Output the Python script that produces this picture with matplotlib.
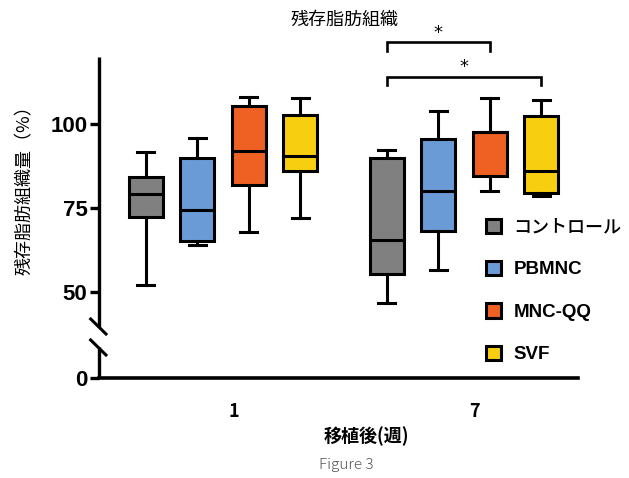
import numpy as np
import matplotlib
matplotlib.use("Agg")
import matplotlib.pyplot as plt
from matplotlib.patches import Patch

# ---------------- data ----------------
weeks = ["1", "7"]
groups = ["コントロール", "PBMNC", "MNC-QQ", "SVF"]
colors = ["#808080", "#6a9bd6", "#ef6123", "#f7cf10"]

# per group: values for week 1, week 7
whislo = {"コントロール": [51.8, 46.5], "PBMNC": [63.9, 56.3], "MNC-QQ": [67.9, 79.9], "SVF": [71.9, 78.4]}
q1     = {"コントロール": [72.2, 55.3], "PBMNC": [65.1, 68.0], "MNC-QQ": [81.7, 84.6], "SVF": [86.1, 79.4]}
med    = {"コントロール": [79.2, 65.4], "PBMNC": [74.2, 79.9], "MNC-QQ": [92.0, 97.6], "SVF": [90.6, 85.9]}
q3     = {"コントロール": [84.3, 89.8], "PBMNC": [89.8, 95.5], "MNC-QQ": [105.3, 97.6], "SVF": [102.8, 102.3]}
whishi = {"コントロール": [91.5, 92.3], "PBMNC": [95.7, 104.0], "MNC-QQ": [108.2, 107.9], "SVF": [107.9, 107.3]}

yticks = [0, 50, 75, 100]
ytick_labels = ["0", "50", "75", "100"]

title = "残存脂肪組織"
ylabel = "残存脂肪組織量（%）"
xlabel = "移植後(週)"
caption = "Figure 3"

# significance (week 7): (group a, group b, bar height, tip height)
sig = [("コントロール", "MNC-QQ", 124.4, 121.7, "*"),
       ("コントロール", "SVF", 114.0, 111.7, "*")]

# ---------------- layout ----------------
W, H = 629, 478
fig = plt.figure(figsize=(W / 100, H / 100), dpi=100)
ax_l, ax_r, ax_t, ax_b = 98.5, 578, 57, 378.3
ax = fig.add_axes([ax_l / W, 1 - ax_b / H, (ax_r - ax_l) / W, (ax_b - ax_t) / H])

# broken y axis: linear above 40, compressed below
B = 40.0
Z = 24.1
k = (B - Z) / B
def fwd(v):
    v = np.asarray(v, dtype=float)
    return np.where(v >= B, v, Z + v * k)
def inv(t):
    t = np.asarray(t, dtype=float)
    return np.where(t >= B, t, (t - Z) / k)
ax.set_yscale("function", functions=(fwd, inv))
ax.set_ylim(0, 120)

group_pos = np.array([0.0, 1.0])
step = 0.2137
offsets = (np.arange(len(groups)) - 1.5) * step
bw = 0.141
lw = 2.2

for gi, g in enumerate(groups):
    stats = []
    for wi in range(len(weeks)):
        stats.append(dict(whislo=whislo[g][wi], q1=q1[g][wi], med=med[g][wi],
                          q3=q3[g][wi], whishi=whishi[g][wi], fliers=[]))
    ax.bxp(stats, positions=group_pos + offsets[gi], widths=bw, capwidths=bw / 2,
           patch_artist=True, showfliers=False,
           boxprops=dict(facecolor=colors[gi], edgecolor="black", linewidth=lw),
           medianprops=dict(color="black", linewidth=lw),
           whiskerprops=dict(color="black", linewidth=lw),
           capprops=dict(color="black", linewidth=lw), manage_ticks=False)

ax.set_xlim(-0.517, 1.473)

# significance brackets
for a, b, yb, yt, s in sig:
    xa = group_pos[1] + offsets[groups.index(a)]
    xb = group_pos[1] + offsets[groups.index(b)]
    ax.plot([xa, xa, xb, xb], [yt, yb, yb, yt], color="black", lw=1.9,
            clip_on=False, solid_joinstyle="miter")
    ax.text((xa + xb) / 2, yb + 0.2, s, ha="center", va="bottom", fontsize=13,
            family="DejaVu Sans", clip_on=False)

# spines
for s in ["top", "right", "left"]:
    ax.spines[s].set_visible(False)
ax.spines["bottom"].set_linewidth(2.6)
ax.spines["bottom"].set_bounds(-0.517, 1.473)
tr = ax.transAxes
ax.plot([0, 0], [0, 0.097], color="black", lw=2.4, transform=tr, clip_on=False,
        solid_capstyle="butt")
ax.plot([0, 0], [0.160, 1.0], color="black", lw=2.4, transform=tr, clip_on=False,
        solid_capstyle="butt")
for y0, y1 in [(0.1846, 0.1379), (0.1192, 0.0725)]:
    ax.plot([-0.0163, 0.0156], [y0, y1], color="black", lw=2.2, transform=tr,
            clip_on=False)

ax.set_yticks(yticks)
ax.set_yticklabels(ytick_labels, family="Liberation Sans", fontweight="bold", fontsize=16)
ax.yaxis.set_minor_locator(matplotlib.ticker.NullLocator())
ax.tick_params(axis="y", length=6.5, width=2.4, pad=1.5)

ax.set_xticks(group_pos + 0.045)
ax.set_xticklabels(weeks, family="Noto Sans CJK JP", fontweight="bold", fontsize=13)
ax.tick_params(axis="x", length=0, pad=17)

jp = ["Noto Sans CJK JP", "DejaVu Sans"]
ax.set_ylabel(ylabel, family=jp, fontsize=13, va="center")
ax.yaxis.set_label_coords((25 - ax_l) / (ax_r - ax_l), (ax_b - 186) / (ax_b - ax_t))

fig.text(344.5 / W, 1 - 20 / H, title, ha="center", va="center", family=jp, fontsize=13)
fig.text(366 / W, 1 - 436 / H, xlabel, ha="center", va="center", family=jp, fontsize=13,
         fontweight="bold")
fig.text(346.7 / W, 1 - 465 / H, caption, ha="center", va="center", family=jp,
         fontsize=11, color="#555555", fontweight="light")

handles = [Patch(facecolor=c, edgecolor="black", linewidth=2.2) for c in colors]
leg = ax.legend(handles, groups, loc="upper left", bbox_to_anchor=(485.7 / W, 1 - 218 / H),
                bbox_transform=fig.transFigure, frameon=False, handlelength=0.85,
                handleheight=0.85, handletextpad=0.7, labelspacing=1.38, borderpad=0,
                borderaxespad=0, prop=dict(family=["Liberation Sans", "Noto Sans CJK JP"], size=13))
for t in leg.get_texts():
    if t.get_text().isascii():
        t.set_fontweight("bold")
        t.set_fontsize(13.5)
        t.set_family("Liberation Sans")
    else:
        t.set_family("Noto Sans CJK JP")
        t.set_fontweight("medium")

fig.savefig("out.png", dpi=100)
